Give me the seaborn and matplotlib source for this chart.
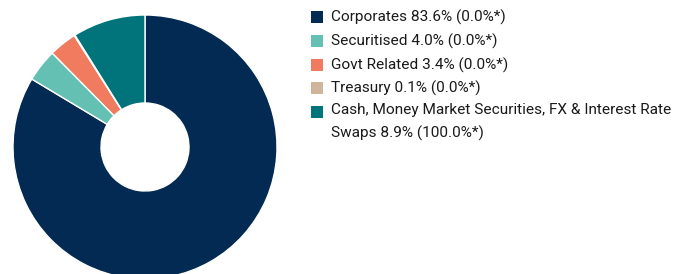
import matplotlib
matplotlib.use("Agg")
import matplotlib.pyplot as plt
import seaborn as sns
from matplotlib.patches import Rectangle

categories = ["Corporates", "Securitised", "Govt Related", "Treasury",
              "Cash, Money Market Securities, FX & Interest Rate Swaps"]
values = [83.6, 4.0, 3.4, 0.1, 8.9]
benchmark = [0.0, 0.0, 0.0, 0.0, 100.0]
legend_labels = [
    "Corporates 83.6% (0.0%*)",
    "Securitised 4.0% (0.0%*)",
    "Govt Related 3.4% (0.0%*)",
    "Treasury 0.1% (0.0%*)",
    "Cash, Money Market Securities, FX & Interest Rate\nSwaps 8.9% (100.0%*)",
]
colors = ["#032a52", "#63c0b3", "#f07b5f", "#cfb59b", "#00737b"]

sns.set_theme(style="white")
plt.rcParams['font.family'] = ['Roboto', 'DejaVu Sans']

W, H = 683, 274
fig = plt.figure(figsize=(W / 100, H / 100), dpi=100)
cx, cy, r = 145, 147, 132
ax = fig.add_axes([(cx - r) / W, (H - cy - r) / H, 2 * r / W, 2 * r / H])
ax.pie(values, colors=sns.color_palette(colors), startangle=90, counterclock=False,
       radius=1, wedgeprops=dict(width=1 - 44 / 132, edgecolor="white", linewidth=1))
ax.set_xlim(-1, 1)
ax.set_ylim(-1, 1)
ax.set_aspect("equal")
ax.axis("off")

row_y = [17, 41, 65, 88, 112]
for lab, col, y in zip(legend_labels, colors, row_y):
    fig.patches.append(Rectangle((311 / W, (H - y - 6) / H), 12 / W, 12 / H,
                                 transform=fig.transFigure, facecolor=col, edgecolor="none"))
    if "\n" in lab:
        fig.text(331 / W, (H - y + 9) / H, lab, fontsize=11.1, color="#1a1a1a",
                 va="top", ha="left", linespacing=1.7)
    else:
        fig.text(331 / W, (H - y) / H, lab, fontsize=11.1, color="#1a1a1a",
                 va="center", ha="left")

fig.savefig("out.png", dpi=100)
